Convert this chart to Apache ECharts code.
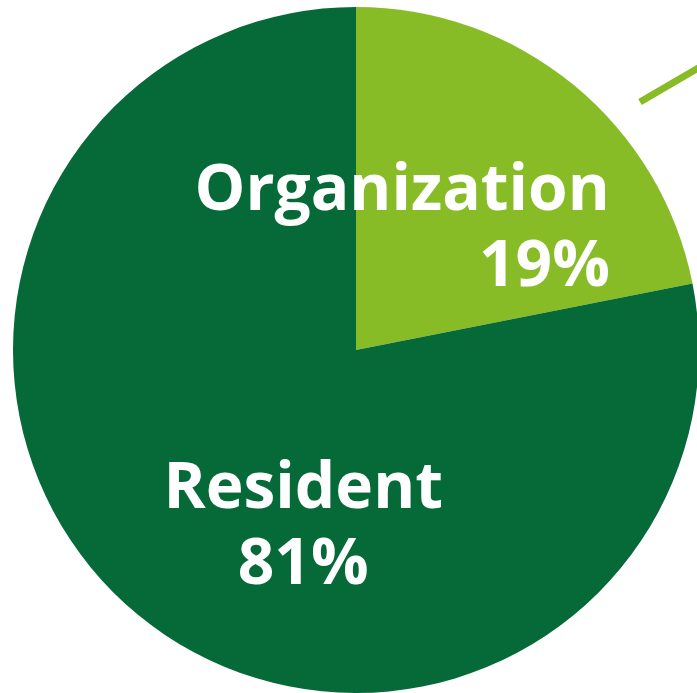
<!DOCTYPE html>
<html>
<head>
<meta charset="utf-8">
<script src="https://cdn.jsdelivr.net/npm/echarts@6/dist/echarts.min.js"></script>
<style>
html,body{margin:0;padding:0;background:#fff;}
#chart{width:697px;height:693px;}
</style>
</head>
<body>
<div id="chart"></div>
<script>
// Data
const categories = ["Organization", "Resident"];
const sliceShares = [21.9, 78.1];       // angular share of each slice as drawn
const percentLabels = ["19%", "81%"];   // percentages printed on the chart
const colors = ["#88bc26", "#066a38"];

const labelOffsets = [[-62, 15], [58, 43]];
const labelAligns = ["right", "center"];

const chart = echarts.init(document.getElementById('chart'), null, {renderer: 'canvas'});

const data = categories.map((name, i) => ({
  name: name,
  value: sliceShares[i],
  itemStyle: { color: colors[i] },
  label: {
    offset: labelOffsets[i],
    formatter: '{a|' + name + '}\n{a|' + percentLabels[i] + '}',
    rich: {
      a: {
        width: 410,
        align: labelAligns[i],
        fontFamily: 'Open Sans',
        fontWeight: 'bold',
        fontSize: 64,
        lineHeight: 76,
        color: '#ffffff'
      }
    }
  }
}));

chart.setOption({
  animation: false,
  series: [{
    type: 'pie',
    center: [356, 350],
    radius: 343,
    startAngle: 90,
    clockwise: true,
    avoidLabelOverlap: false,
    silent: true,
    itemStyle: { borderWidth: 0 },
    label: { show: true, position: 'inside' },
    labelLine: { show: false },
    data: data
  }],
  graphic: [{
    type: 'line',
    shape: { x1: 640, y1: 102, x2: 700, y2: 67 },
    style: { stroke: colors[0], lineWidth: 7 }
  }]
});
</script>
</body>
</html>
